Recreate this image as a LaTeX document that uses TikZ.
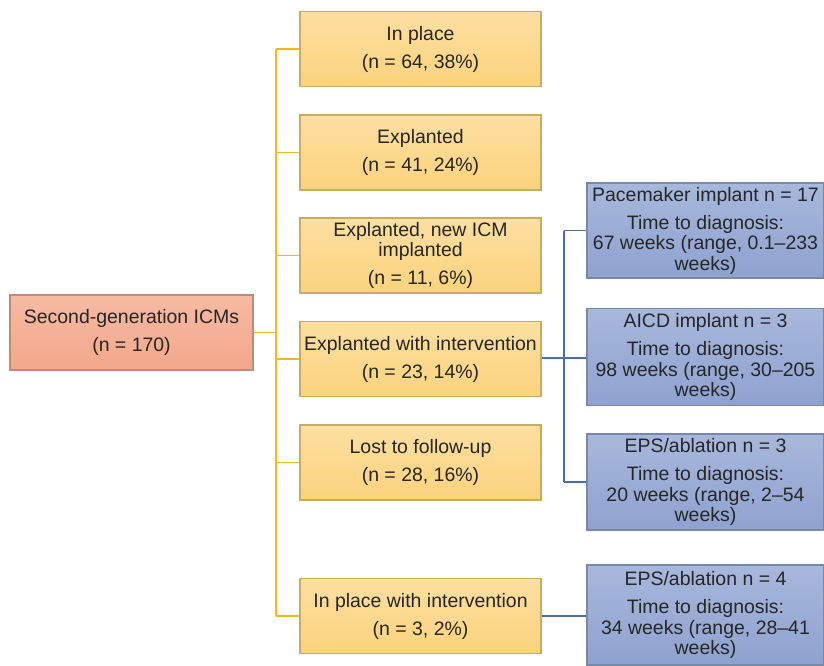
\documentclass[tikz,border=0pt]{standalone}
\usepackage{fontspec}
\setmainfont{Liberation Sans}
\begin{document}
\begin{tikzpicture}[x=0.75pt,y=-0.75pt,
  txt/.style={align=center,text=black!85,font=\fontsize{14.6}{15.4}\selectfont,inner sep=0pt},
  ybox/.style={txt,rectangle,draw=yellow!40!brown!70!gray,line width=0.8pt,top color=yfillT,bottom color=yfillB,minimum width=180.75pt,minimum height=56.25pt},
  rbox/.style={txt,rectangle,draw=rborder,line width=0.8pt,top color=rfillT,bottom color=rfillB,minimum width=182.25pt,minimum height=56.25pt},
  bbox/.style={txt,rectangle,draw=bborder,line width=0.8pt,top color=bfillT,bottom color=bfillB,minimum width=177.75pt},
  yline/.style={draw=ylinec,line width=0.9pt},
  bline/.style={draw=blinec,line width=0.9pt}]
\definecolor{yfillT}{HTML}{FDDFA2}
\definecolor{yfillB}{HTML}{FBD37C}
\definecolor{rfillT}{HTML}{F6BBA3}
\definecolor{rfillB}{HTML}{F2A78A}
\definecolor{rborder}{HTML}{C08A78}
\definecolor{bfillT}{HTML}{A8B8DC}
\definecolor{bfillB}{HTML}{8EA2D0}
\definecolor{bborder}{HTML}{7A88A8}
\definecolor{ylinec}{HTML}{F4B91C}
\definecolor{blinec}{HTML}{4A6DAE}
\useasboundingbox (0,0) rectangle (824,665);

\node[rbox] (root) at (131.5,332.5) {Second-generation ICMs\\[5.6pt](n = 170)};

\node[ybox] (y1) at (420.5,49) {In place\\[5.6pt](n = 64, 38\%)};
\node[ybox] (y2) at (420.5,152.5) {Explanted\\[5.6pt](n = 41, 24\%)};
\node[ybox] (y3) at (420.5,255.5) {Explanted, new ICM\\implanted\\[5.6pt](n = 11, 6\%)};
\node[ybox] (y4) at (420.5,359) {Explanted with intervention\\[5.6pt](n = 23, 14\%)};
\node[ybox] (y5) at (420.5,462.5) {Lost to follow-up\\[5.6pt](n = 28, 16\%)};
\node[ybox] (y6) at (420.5,616) {In place with intervention\\[5.6pt](n = 3, 2\%)};

\node[bbox,minimum height=71.25pt] (b1) at (705.5,230.5) {Pacemaker implant n = 17\\[5.6pt]Time to diagnosis:\\67 weeks (range, 0.1--233\\weeks)};
\node[bbox,minimum height=72.75pt] (b2) at (705.5,357) {AICD implant n = 3\\[5.6pt]Time to diagnosis:\\98 weeks (range, 30--205\\weeks)};
\node[bbox,minimum height=72pt] (b3) at (705.5,482) {EPS/ablation n = 3\\[5.6pt]Time to diagnosis:\\20 weeks (range, 2--54\\weeks)};
\node[bbox,minimum height=75pt] (b4) at (705.5,615) {EPS/ablation n = 4\\[5.6pt]Time to diagnosis:\\34 weeks (range, 28--41\\weeks)};

% yellow connectors
\coordinate (ytop) at (276,49);
\coordinate (ybot) at (276,616);
\coordinate (yroot) at (276,332.5);
\draw[yline] (ytop) -- (ybot);
\draw[yline] (root.east) -- (yroot);
\foreach \n in {y1,y2,y3,y4,y5,y6}{
  \draw[yline] (\n.west) -- (276,0 |- \n.west);
}

% blue connectors
\coordinate (btop) at (564,230.5);
\coordinate (bbot) at (564,482);
\coordinate (bmid) at (564,358);
\draw[bline] (btop) -- (bbot);
\draw[bline] (y4.east |- bmid) -- (bmid);
\draw[bline] (btop) -- (b1.west |- btop);
\draw[bline] (bmid) -- (b2.west |- bmid);
\draw[bline] (bbot) -- (b3.west |- bbot);
\draw[bline] (y6.east) -- (y6.east -| b4.west);
\end{tikzpicture}
\end{document}
